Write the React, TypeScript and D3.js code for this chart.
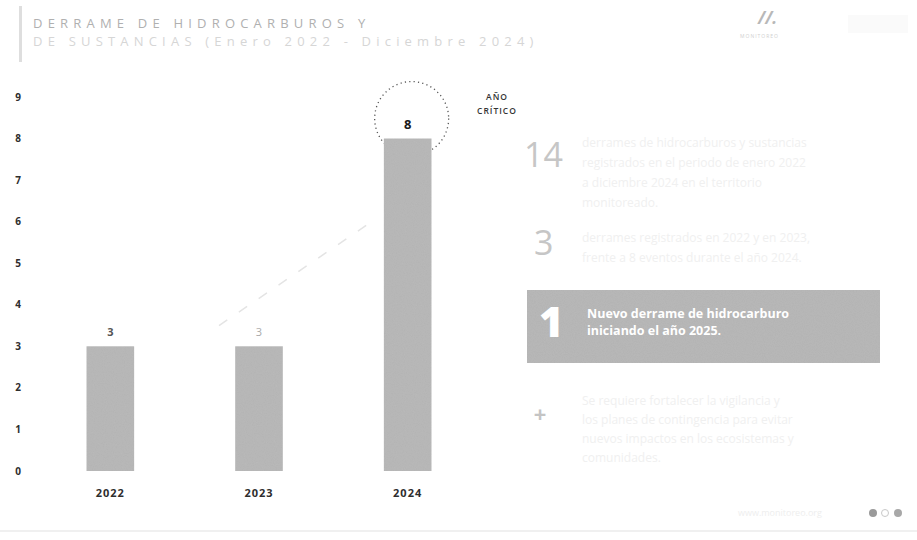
import React from "react";
import * as d3 from "d3";

const years = ["2022", "2023", "2024"];
const spills = [3, 3, 8];
const yTicks = [0, 1, 2, 3, 4, 5, 6, 7, 8, 9];
const titleLines = ["DERRAME DE HIDROCARBUROS Y", "DE SUSTANCIAS (Enero 2022 - Diciembre 2024)"];
const critical = ["AÑO", "CRÍTICO"];
const statNumbers = ["14", "3"];
const statTexts = [
  ["derrames de hidrocarburos y sustancias", "registrados en el periodo de enero 2022", "a diciembre 2024 en el territorio", "monitoreado."],
  ["derrames registrados en 2022 y en 2023,", "frente a 8 eventos durante el año 2024."],
];
const highlightNumber = "1";
const highlightText = ["Nuevo derrame de hidrocarburo", "iniciando el año 2025."];
const plusText = ["Se requiere fortalecer la vigilancia y", "los planes de contingencia para evitar", "nuevos impactos en los ecosistemas y", "comunidades."];

const W = 917;
const H = 540;

export default function App() {
  const x = d3.scaleBand<string>().domain(years).range([36, 482]).paddingInner(0.68).paddingOuter(0.34);
  const y = d3.scaleLinear().domain([0, 9]).range([471, 97]);
  const bw = x.bandwidth();
  const c = (yr: string) => (x(yr) as number) + bw / 2;
  const font = "'Open Sans', Lato, sans-serif";
  const trend = d3.line<[number, number]>()([
    [c("2023") - 40, y(3.5)],
    [c("2024") - 36, y(6)],
  ]) as string;
  const circ = { cx: c("2024") + 4, cy: y(8) - 20, r: 37 };

  return (
    <svg width={W} height={H} viewBox={`0 0 ${W} ${H}`} style={{ position: "absolute", left: 0, top: 0, background: "#fff", fontFamily: font }}>
      <defs>
        <filter id="grain" x="0" y="0" width="100%" height="100%">
          <feTurbulence type="fractalNoise" baseFrequency="0.9" numOctaves="2" seed="3" result="n" />
          <feColorMatrix type="matrix" values="0 0 0 0 0.55  0 0 0 0 0.55  0 0 0 0 0.55  0 0 0 0.35 0" in="n" result="g" />
          <feComposite in="g" in2="SourceGraphic" operator="in" result="gc" />
          <feMerge>
            <feMergeNode in="SourceGraphic" />
            <feMergeNode in="gc" />
          </feMerge>
        </filter>
      </defs>

      {/* header */}
      <rect x={19} y={6} width={3} height={56} fill="#dedede" />
      <text x={33} y={28} fontSize={13} letterSpacing={5.2} fill="#b0b0b0">{titleLines[0]}</text>
      <text x={33} y={46} fontSize={13} letterSpacing={5.2} fill="#d6d6d6">{titleLines[1]}</text>
      <text x={758} y={24} fontSize={17} fontWeight={700} fontStyle="italic" fill="#b8b8b8">//.</text>
      <text x={740} y={38} fontSize={5} fill="#d0d0d0" letterSpacing={1}>MONITOREO</text>
      <rect x={848} y={15} width={60} height={18} fill="#fafafa" />

      {/* y axis labels */}
      {yTicks.map((t) => (
        <text key={t} x={18} y={y(t)} dy="0.35em" textAnchor="middle" fontSize={10} fontWeight={700} fill="#2e2e2e">{t}</text>
      ))}

      {/* trend line */}
      <path d={trend} stroke="#e4e4e4" strokeWidth={1.5} strokeDasharray="10 14" fill="none" />

      {/* critical circle */}
      <circle cx={circ.cx} cy={circ.cy} r={circ.r} fill="none" stroke="#555" strokeWidth={1.3} strokeDasharray="1.2 3.2" />

      {/* bars */}
      {years.map((yr, i) => (
        <rect key={yr} x={x(yr)} y={y(spills[i])} width={bw} height={y(0) - y(spills[i])} fill="#b4b4b4" filter="url(#grain)" />
      ))}

      {/* value labels */}
      {years.map((yr, i) => (
        <text key={yr} x={c(yr)} y={y(spills[i]) - 10} textAnchor="middle" fontSize={i === 2 ? 13 : 11}
          fontWeight={i === 1 ? 400 : 700} fill={i === 2 ? "#1a1a1a" : i === 0 ? "#555" : "#aaa"}>{spills[i]}</text>
      ))}

      {/* x labels */}
      {years.map((yr) => (
        <text key={yr} x={c(yr)} y={497} textAnchor="middle" fontSize={11} fontWeight={700} letterSpacing={1} fill="#2e2e2e">{yr}</text>
      ))}

      {/* critical label */}
      {critical.map((s, i) => (
        <text key={s} x={497} y={100 + i * 14} textAnchor="middle" fontSize={8.5} fontWeight={600} letterSpacing={1} fill="#333">{s}</text>
      ))}

      {/* right panel stats */}
      {statNumbers.map((n, i) => (
        <text key={n} x={i === 0 ? 524 : 534} y={i === 0 ? 167 : 255} fontSize={34} fontWeight={400} fill="#c6c6c6">{n}</text>
      ))}
      {statTexts.map((lines, i) =>
        lines.map((l, j) => (
          <text key={`${i}-${j}`} x={582} y={(i === 0 ? 147 : 242) + j * 20} fontSize={12} fill="#f0f0f0">{l}</text>
        ))
      )}

      <rect x={527} y={290} width={353} height={73} fill="#b3b3b3" filter="url(#grain)" />
      <text x={539} y={337} fontSize={42} fontWeight={800} fill="#ffffff">{highlightNumber}</text>
      {highlightText.map((l, i) => (
        <text key={l} x={587} y={318 + i * 17} fontSize={12.5} fontWeight={700} fill="#ffffff">{l}</text>
      ))}

      <text x={540} y={422} textAnchor="middle" fontSize={22} fontWeight={700} fill="#c4c4c4">+</text>
      {plusText.map((l, i) => (
        <text key={l} x={582} y={405 + i * 19} fontSize={12} fill="#f0f0f0">{l}</text>
      ))}

      {/* footer */}
      <text x={738} y={516} fontSize={9} fill="#eeeeee">www.monitoreo.org</text>
      <circle cx={873} cy={513} r={4} fill="#9a9a9a" />
      <circle cx={885} cy={513} r={3.5} fill="none" stroke="#c8c8c8" />
      <circle cx={898} cy={513} r={4} fill="#a8a8a8" />
      <line x1={0} y1={531} x2={917} y2={531} stroke="#f0f0f0" strokeWidth={2} />
    </svg>
  );
}
